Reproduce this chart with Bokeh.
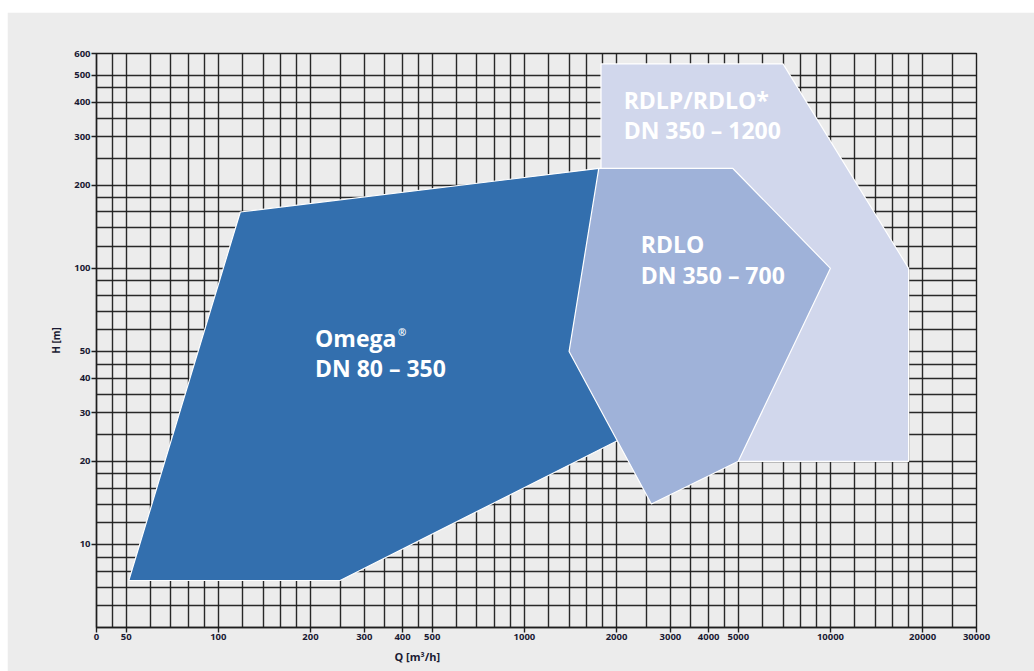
from bokeh.plotting import figure
from bokeh.models import Range1d, FixedTicker, NumeralTickFormatter, ColumnDataSource, Title, Spacer
from bokeh.layouts import row, column
from bokeh.core.properties import value
from bokeh.embed import file_html
from bokeh.resources import INLINE

# ---- data ----
x_tick_values = [40, 50, 100, 200, 300, 400, 500, 1000, 2000, 3000, 4000, 5000, 10000, 20000, 30000]
y_tick_values = [10, 20, 30, 40, 50, 100, 200, 300, 400, 500, 600]
grid_mantissas = [1, 1.2, 1.4, 1.6, 1.8, 2, 2.5, 3, 3.5, 4, 4.5, 5, 6, 7, 8, 9]

omega_q = [51, 250, 2050, 1750, 118]
omega_h = [7.4, 7.4, 24, 230, 160]

rdlp_q = [1780, 7000, 18000, 18000, 5000, 1780]
rdlp_h = [550, 550, 100, 20, 20, 230]

rdlo_q = [1750, 4800, 10000, 5000, 2600, 1400]
rdlo_h = [230, 230, 100, 20, 14, 50]

region_colors = ["#336fae", "#d1d7ec", "#9fb2d9"]

label_texts = ["Omega", "DN 80 \u2013 350", "RDLO", "DN 350 \u2013 700", "RDLP/RDLO*", "DN 350 \u2013 1200"]
label_q = [207, 207, 2400, 2400, 2110, 2110]
label_h = [56.0, 43.6, 122.5, 94.3, 407, 316]

x_lo, x_hi = 40, 30000
y_lo, y_hi = 5, 600

# grid values
def grid_vals(lo, hi):
    out = []
    dec = 1
    while dec <= hi:
        for m in grid_mantissas:
            v = round(m * dec, 6)
            if lo <= v <= hi:
                out.append(v)
        dec *= 10
    return out

x_grid = grid_vals(x_lo, x_hi)
y_grid = grid_vals(y_lo, y_hi)

bg = "#ececec"
p = figure(width=1027, height=659, x_axis_type="log", y_axis_type="log",
           x_range=Range1d(x_lo, x_hi), y_range=Range1d(y_lo, y_hi),
           output_backend="svg", toolbar_location=None,
           min_border_left=89, min_border_right=58, min_border_top=41, min_border_bottom=44,
           background_fill_color=bg, border_fill_color=bg)

p.outline_line_color = "#1e1e1e"
p.outline_line_width = 1.4

# grid
p.xgrid.ticker = FixedTicker(ticks=x_grid, minor_ticks=[])
p.ygrid.ticker = FixedTicker(ticks=y_grid, minor_ticks=[])
for g in (p.xgrid, p.ygrid):
    g.grid_line_color = "#1e1e1e"
    g.grid_line_width = 1.4
    g.grid_line_alpha = 0.95

# axes
p.xaxis.ticker = FixedTicker(ticks=x_tick_values, minor_ticks=[])
p.yaxis.ticker = FixedTicker(ticks=y_tick_values, minor_ticks=[])
p.xaxis.formatter = NumeralTickFormatter(format="0")
p.yaxis.formatter = NumeralTickFormatter(format="0")
p.xaxis.major_label_overrides = {40: "0"}
for ax in (p.xaxis, p.yaxis):
    ax.axis_line_color = "#1e1e1e"
    ax.axis_line_width = 1.4
    ax.major_tick_line_color = "#1e1e1e"
    ax.major_tick_line_width = 1.4
    ax.major_tick_out = 5
    ax.major_tick_in = 0
    ax.minor_tick_out = 0
    ax.minor_tick_in = 0
    ax.major_label_text_font = "Open Sans"
    ax.major_label_text_font_style = "bold"
    ax.major_label_text_font_size = "9.5px"
    ax.major_label_text_color = "#1a1a33"
    ax.major_label_standoff = 1
p.yaxis.axis_label = "H [m]"
p.yaxis.axis_label_text_font = "Open Sans"
p.yaxis.axis_label_text_font_style = "bold"
p.yaxis.axis_label_text_font_size = "10px"
p.yaxis.axis_label_text_color = "#1a1a33"
p.yaxis.axis_label_standoff = 8

# regions
src = ColumnDataSource(dict(xs=[omega_q, rdlp_q, rdlo_q], ys=[omega_h, rdlp_h, rdlo_h], color=region_colors))
p.patches("xs", "ys", source=src, fill_color="color", line_color="white", line_width=1.2)

# labels
p.text(x=label_q, y=label_h, text=label_texts, text_font=value("Open Sans"), text_font_style="bold",
       text_font_size="23px", text_color="white", text_align="left", text_baseline="alphabetic")
p.text(x=[label_q[0]], y=[label_h[0]], text=["\u00ae"], x_offset=83, y_offset=-6,
       text_font=value("Open Sans"), text_font_style="bold", text_font_size="10px",
       text_color="white", text_align="left", text_baseline="alphabetic")

# x axis title, placed as in the reference (left of centre)
q_title = Title(text="Q [m\u00b3/h]", align="left", offset=298, text_font="Open Sans",
                text_font_style="bold", text_font_size="11px", text_color="#1a1a33",
                standoff=8)
p.add_layout(q_title, "below")

layout = row(Spacer(width=7), column(Spacer(height=12), p))
open("out.html", "w").write(file_html(layout, INLINE))
